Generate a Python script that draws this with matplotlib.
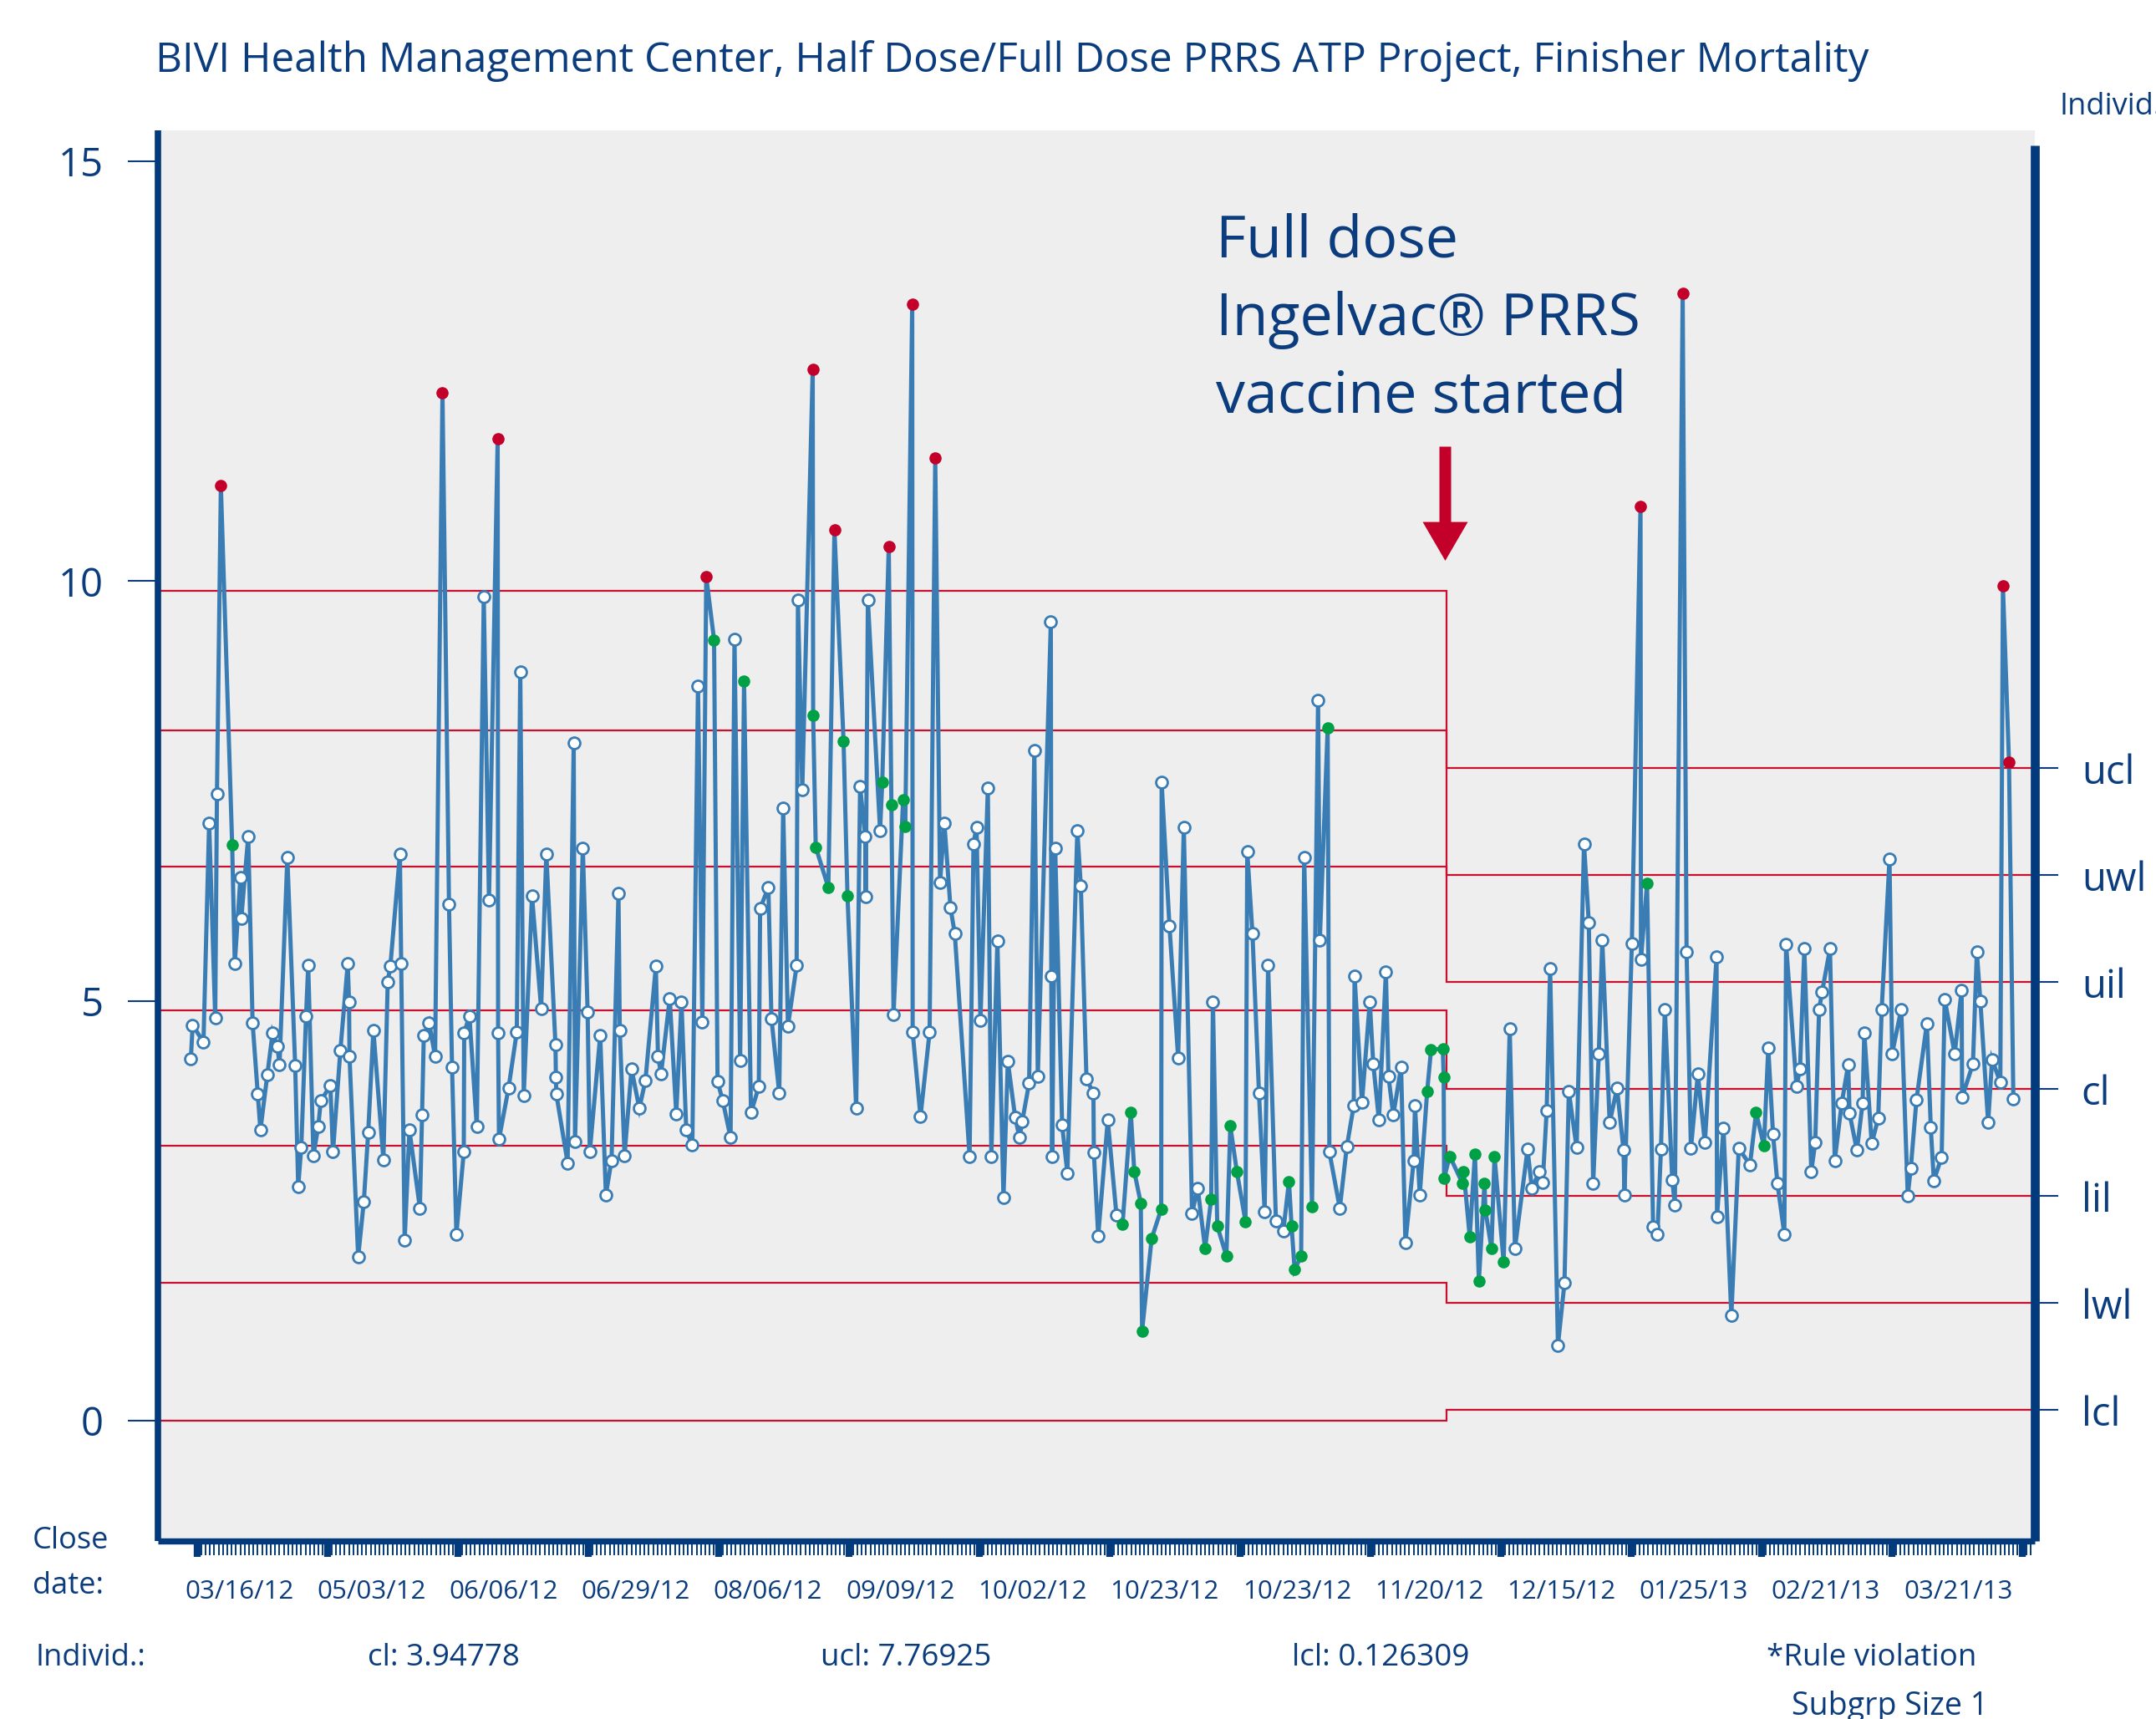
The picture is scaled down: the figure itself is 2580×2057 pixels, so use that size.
import matplotlib
matplotlib.use("Agg")
import matplotlib.pyplot as plt
import matplotlib.transforms as mtransforms
from matplotlib.patches import Polygon
import numpy as np

plt.rcParams['font.family'] = ['Open Sans', 'DejaVu Sans']

W, H, DPI = 2580, 2057, 100

NAVY = '#0b3c7d'
SPINE = '#023a7b'
LINE = '#3a7db4'
RED = '#c3002a'
GREEN = '#00a146'
LIMIT = '#c8102e'
BG = '#eeeeee'

# ---------------- data ----------------
title = "BIVI Health Management Center, Half Dose/Full Dose PRRS ATP Project, Finisher Mortality"
annotation = ["Full dose", "Ingelvac\u00ae PRRS", "vaccine started"]

date_labels = ["03/16/12", "05/03/12", "06/06/12", "06/29/12", "08/06/12", "09/09/12",
               "10/02/12", "10/23/12", "10/23/12", "11/20/12", "12/15/12", "01/25/13",
               "02/21/13", "03/21/13"]

# close day (days from first major tick) of each finisher group
close_day = [
    -1.4, -1.0, 1.5, 2.8, 4.2, 4.6, 5.5, 8.1, 8.7, 10.0, 10.2, 11.8, 12.8, 14.0, 14.6, 16.2,
    17.4, 18.5, 19.0, 20.8, 22.6, 23.3, 24.0, 25.1, 25.6, 26.8, 27.9, 28.5, 30.7, 31.3, 33.0,
    34.7, 35.0, 35.1, 37.1, 38.4, 39.4, 40.6, 42.9, 43.9, 44.5, 46.7, 47.0, 47.8, 48.9,
    51.3, 51.8, 52.2, 53.4, 54.8, 56.5, 58.0, 58.7, 59.7, 61.4, 61.5, 62.7, 64.4, 66.0, 67.2,
    69.2, 69.3, 69.5, 71.7, 73.6, 74.4, 75.2, 77.1, 79.2, 80.4, 82.5, 82.6, 82.7, 85.3, 86.7,
    87.0, 88.8, 89.9, 90.4, 92.8, 94.1, 95.4, 97.0, 97.3, 98.4, 100.0, 101.8,
    103.2, 105.6, 106.1, 106.8, 108.8, 110.3, 111.5, 112.6, 114.0, 115.3, 116.3, 117.2, 119.0,
    119.8, 121.0, 122.8, 123.7, 125.0, 125.9, 127.5, 129.3, 129.6, 131.5, 132.2, 134.0, 134.9,
    136.0, 138.0, 138.3, 139.3, 141.7, 141.8, 142.4, 145.3, 146.7, 148.8, 149.7, 151.7, 152.6,
    153.8, 153.9, 154.4,
    157.2, 157.7, 159.2, 159.8, 160.3, 162.5, 163.0, 164.6, 164.7, 166.5, 168.6, 169.9, 171.0,
    172.0, 173.4, 174.4, 177.8, 178.7, 179.4, 180.3, 182.0, 182.8, 184.2, 185.6, 186.6, 188.3,
    189.3, 189.9, 191.5, 192.7, 193.5, 196.5, 196.6, 196.8, 197.5, 199.1, 200.3, 202.6, 203.4,
    204.7, 206.3, 206.4, 207.4,
    209.6, 211.6, 213.0, 214.9, 215.7, 217.2, 217.5, 219.7, 221.9, 222.0, 223.8, 225.8, 227.1,
    229.0, 230.3, 232.0, 233.4, 233.8, 234.8, 236.9, 237.8, 239.3, 241.3, 241.7, 242.9, 244.4,
    245.7, 246.5, 248.3, 250.0, 251.3, 251.9, 252.6, 254.1, 254.8, 256.6, 258.0, 258.4, 260.2,
    260.6,
    263.0, 264.6, 266.2, 266.4, 268.1, 269.9, 270.7, 272.0, 273.6, 274.2, 275.3, 277.1, 278.1,
    280.0, 280.3, 281.4, 283.1, 284.0, 286.7, 286.9, 287.0, 288.3, 291.2, 291.5, 292.9, 294.1,
    295.0, 296.3, 296.5, 297.9, 298.6, 300.7, 302.1, 303.3, 306.2, 307.2, 309.0, 309.7, 310.6,
    311.4, 313.2,
    314.7, 315.7, 317.5, 319.2, 320.3, 321.3, 322.6, 323.4, 325.1, 326.8, 328.3, 328.5, 330.2,
    332.2, 332.3, 333.7, 335.1, 336.1, 336.9, 337.8, 339.5, 340.1, 341.9, 342.8, 343.8, 345.4,
    347.0, 349.7, 349.8, 351.3, 353.1, 354.8, 357.4, 358.8, 360.6, 361.6, 362.7, 363.7, 365.3,
    365.7,
    368.1, 368.9, 369.9, 371.5, 372.4, 373.3, 374.0, 375.8, 376.9, 378.5, 380.0, 380.3, 382.0,
    383.3, 383.7, 385.4, 386.9, 387.7, 389.5, 390.1, 392.2, 393.7, 394.4, 395.7, 398.1, 399.0,
    399.7, 401.5, 402.2, 404.5, 406.1, 406.2, 408.7, 409.6, 410.4, 412.2, 413.1, 415.0, 415.6,
    417.0, 418.0,
]

# finisher mortality (%)
mortality = [
    4.31, 4.71, 4.51, 7.12, 4.80, 7.46, 11.14, 6.86, 5.44, 6.47, 5.98, 6.96, 4.74, 3.89, 3.46,
    4.12, 4.62, 4.46, 4.24, 6.71, 4.23, 2.79, 3.25, 4.82, 5.42, 3.16, 3.50, 3.81, 3.99, 3.20,
    4.41, 5.44, 4.99, 4.34, 1.95, 2.61, 3.43, 4.65, 3.11, 5.23, 5.41, 6.75, 5.44, 2.15, 3.46,
    2.53, 3.64, 4.59, 4.74, 4.34, 12.24, 6.15, 4.21, 2.22, 3.20, 4.62, 4.82, 3.50, 9.81, 6.20,
    11.69, 4.62, 3.35, 3.96, 4.63, 8.92, 3.87, 6.25, 4.91, 6.75, 4.48, 4.09, 3.89, 3.07, 8.07,
    3.32, 6.82, 4.87, 3.20, 4.59, 2.69, 3.10, 6.28, 4.65, 3.16, 4.19, 3.72,
    4.05, 5.41, 4.34, 4.13, 5.03, 3.65, 4.99, 3.46, 3.28, 8.75, 4.75, 10.05, 9.30, 4.04, 3.81,
    3.37, 9.31, 4.29, 8.81, 3.67, 3.98, 6.10, 6.35, 4.79, 3.90, 7.30, 4.70, 5.42, 9.77, 7.51,
    12.52, 8.40, 6.83, 6.35, 10.61, 8.09, 6.25, 3.72, 7.55, 6.96, 6.24, 9.77,
    7.03, 7.60, 10.41, 7.34, 4.84, 7.39, 7.08, 13.30, 4.63, 3.62, 4.63, 11.47, 6.41, 7.12, 6.11,
    5.80, 3.15, 6.87, 7.07, 4.77, 7.53, 3.15, 5.71, 2.66, 4.28, 3.61, 3.37, 3.56, 4.02, 7.98,
    4.10, 9.51, 5.29, 3.15, 6.82, 3.52, 2.95, 7.03, 6.37, 4.07, 3.90, 3.19, 2.20,
    3.58, 2.45, 2.34, 3.67, 2.97, 2.59, 1.07, 2.17, 2.52, 7.60, 5.89, 4.32, 7.07, 2.47, 2.77,
    2.05, 2.64, 4.99, 2.32, 1.96, 3.51, 2.97, 2.37, 6.78, 5.80, 3.90, 2.49, 5.42, 2.38, 2.26,
    2.85, 2.32, 1.80, 1.96, 6.71, 2.55, 8.58, 5.72, 8.25, 3.20,
    2.53, 3.26, 3.75, 5.29, 3.79, 4.99, 4.25, 3.58, 5.34, 4.10, 3.64, 4.21, 2.12, 3.10, 3.75,
    2.69, 3.92, 4.42, 4.43, 4.09, 2.89, 3.15, 2.83, 2.97, 2.19, 3.18, 1.66, 2.83, 2.51, 2.05,
    3.15, 1.89, 4.67, 2.05, 3.23, 2.77, 2.97, 2.84, 3.69, 5.38, 0.90,
    1.64, 3.92, 3.25, 6.87, 5.93, 2.83, 4.37, 5.72, 3.55, 3.96, 3.22, 2.69, 5.68, 10.89, 5.49,
    6.40, 2.31, 2.22, 3.23, 4.90, 2.87, 2.57, 13.43, 5.58, 3.24, 4.13, 3.31, 5.52, 2.43, 3.48,
    1.25, 3.24, 3.05, 3.67, 3.27, 4.44, 3.41, 2.83, 2.22, 5.67,
    3.98, 4.19, 5.62, 2.97, 3.31, 4.90, 5.11, 5.62, 3.10, 3.78, 4.24, 3.66, 3.22, 3.78, 4.62,
    3.30, 3.60, 4.90, 6.69, 4.37, 4.90, 2.68, 3.01, 3.82, 4.73, 3.49, 2.86, 3.14, 5.02, 4.37,
    5.13, 3.85, 4.25, 5.58, 5.00, 3.55, 4.30, 4.03, 9.94, 7.84, 3.83,
]

# rule flags: n = in control, r = rule violation (high), g = rule violation (run)
rule_flags = (
    "nnnnnnrg" + "n" * 37 +
    "nnnnnr" + "n" * 9 + "r" + "n" * 26 +
    "n" * 11 + "rg" + "n" * 5 + "g" + "n" * 11 + "rgggrgg" + "n" * 5 +
    "ngrgnggr" + "nnn" + "r" + "n" * 31 +
    "nn" + "g" * 7 + "n" * 6 + "gg" + "n" + "g" * 5 + "n" * 7 + "g" * 4 + "n" + "g" + "nn" + "g" + "n" +
    "n" * 16 + "g" * 16 + "n" * 9 +
    "n" * 13 + "r" + "n" + "g" + "n" * 6 + "r" + "n" * 10 + "gg" + "n" * 5 +
    "n" * 38 + "rr" + "n"
)

limit_names = ["ucl", "uwl", "uil", "cl", "lil", "lwl", "lcl"]
phase1_limits = [9.88, 8.22, 6.60, 4.885, 3.27, 1.645, 0.0]
phase2_limits = [7.76925, 6.4954, 5.2216, 3.94778, 2.6740, 1.4001, 0.126309]
change_day = 287.6

footer_stats = ["cl: 3.94778", "ucl: 7.76925", "lcl: 0.126309"]

# ---------------- figure ----------------
n = min(len(close_day), len(mortality))
x = np.array(close_day[:n])
y = np.array(mortality[:n])
flags = (rule_flags + "n" * n)[:n]

fig = plt.figure(figsize=(W / DPI, H / DPI), dpi=DPI)
fig.patch.set_facecolor('white')


def fx(px):
    return px / W


def fy(py):
    return 1 - py / H


ax = fig.add_axes([fx(189), fy(1843.7), fx(2435.3) - fx(189), fy(156) - fy(1843.7)])
ax.set_facecolor(BG)
ax.set_xlim(-8.98, 423.0)
ax.set_ylim(-1.430, 15.367)

# control limit step lines
xmin, xmax = ax.get_xlim()
for v1, v2 in zip(phase1_limits, phase2_limits):
    ax.plot([xmin, change_day, change_day, xmax], [v1, v1, v2, v2],
            color=LIMIT, lw=1.6, zorder=2, solid_joinstyle='miter')

# data line and markers
ax.plot(x, y, color=LINE, lw=3.6, zorder=3, solid_joinstyle='miter')
fl = np.array(list(flags))
m = fl == 'n'
ax.plot(x[m], y[m], ls='none', marker='o', ms=10, mfc='white', mec=LINE, mew=2.0, zorder=4)
m = fl == 'r'
ax.plot(x[m], y[m], ls='none', marker='o', ms=10.5, mfc=RED, mec=RED, mew=0, zorder=5)
m = fl == 'g'
ax.plot(x[m], y[m], ls='none', marker='o', ms=10.5, mfc=GREEN, mec=GREEN, mew=0, zorder=5)

# spines
ax.spines['top'].set_visible(False)
ax.spines['left'].set_color(SPINE)
ax.spines['left'].set_linewidth(5.5)
ax.spines['bottom'].set_color(SPINE)
ax.spines['bottom'].set_linewidth(5.3)
ax.spines['right'].set_color(SPINE)
ax.spines['right'].set_linewidth(7.7)
ax.spines['right'].set_bounds(-1.430, 15.188)
for s in ax.spines.values():
    s.set_capstyle('butt')

# y ticks left
ax.set_yticks([0, 5, 10, 15])
ax.set_yticklabels(["0", "5", "10", "15"])
ax.tick_params(axis='y', which='major', direction='out', length=26, width=1.5,
               pad=21, color=NAVY, labelcolor=NAVY, labelsize=34, right=False)

# x ticks
ax.set_xticks(np.arange(0, 421, 30))
ax.set_xticks(np.arange(0, 423, 1), minor=True)
ax.set_xticklabels([])
ax.tick_params(axis='x', which='major', direction='out', length=14, width=6, color=SPINE)
ax.tick_params(axis='x', which='minor', direction='out', length=12.4, width=1.4, color=SPINE)

# right axis labels
ax2 = ax.twinx()
ax2.set_ylim(ax.get_ylim())
ax2.set_yticks(phase2_limits)
ax2.set_yticklabels(limit_names)
ax2.tick_params(axis='y', direction='out', length=20, width=1.5, pad=20,
                color=NAVY, labelcolor=NAVY, labelsize=34)
for s in ax2.spines.values():
    s.set_visible(False)

# date labels under the axis
blend = mtransforms.blended_transform_factory(ax.transData, fig.transFigure)
for k, lab in enumerate(date_labels):
    ax.text(9.7 + 30.43 * k, fy(1905), lab, transform=blend, ha='center', va='center',
            fontsize=22.5, color=NAVY, clip_on=False)

# title and texts
fig.text(fx(186), fy(86), title, fontsize=35.6, color=NAVY, ha='left', va='baseline')
fig.text(fx(2465), fy(137), "Individ.", fontsize=26, color=NAVY, ha='left', va='baseline')

fig.text(fx(39), fy(1853), "Close", fontsize=26, color=NAVY, ha='left', va='baseline')
fig.text(fx(39), fy(1907), "date:", fontsize=26, color=NAVY, ha='left', va='baseline')
fig.text(fx(42), fy(1993), "Individ.:", fontsize=26, color=NAVY, ha='left', va='baseline')
for cx, s in zip([531, 1084, 1652], footer_stats):
    fig.text(fx(cx), fy(1993), s, fontsize=26.5, color=NAVY, ha='center', va='baseline')
fig.text(fx(2240), fy(1993), "*Rule violation", fontsize=26.5, color=NAVY, ha='center', va='baseline')
fig.text(fx(2262), fy(2052), "Subgrp Size 1", fontsize=27, color=NAVY, ha='center', va='baseline')

# annotation
for line, by in zip(annotation, [308, 401, 494]):
    fig.text(fx(1455), fy(by), line, fontsize=50.3, color=NAVY, ha='left', va='baseline')

arrow_px = [(1722.5, 534.5), (1736.5, 534.5), (1736.5, 624.6), (1756.5, 624.6),
            (1729.5, 671), (1702.5, 624.6), (1722.5, 624.6)]
fig.patches.append(Polygon([(fx(a), fy(b)) for a, b in arrow_px], closed=True,
                           transform=fig.transFigure, facecolor=RED, edgecolor='none',
                           zorder=10))

fig.savefig("out.png", dpi=DPI, facecolor='white')
